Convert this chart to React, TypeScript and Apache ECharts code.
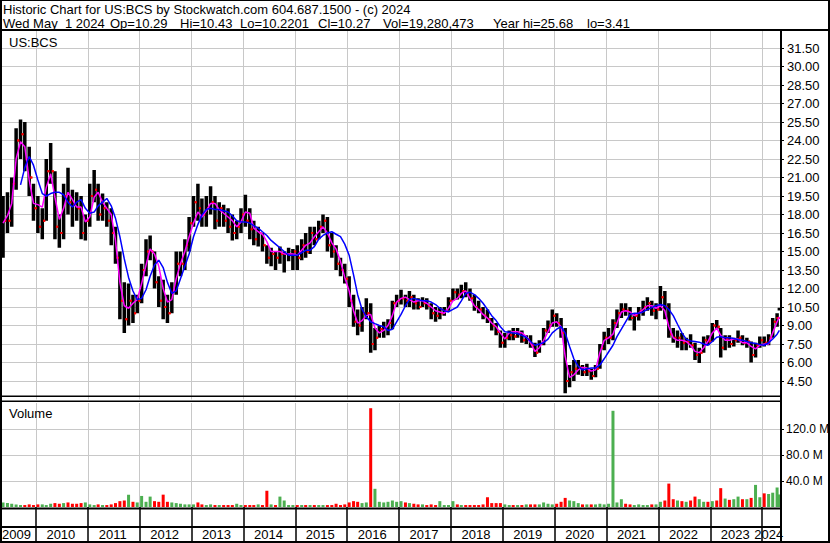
import React, { useEffect, useRef } from 'react';
import * as echarts from 'echarts';

// Monthly bars, May 2009 .. May 2024 (last bar = May 1 2024)
const FIRST_YEAR = 2009;
const FIRST_MONTH = 5;
const LAST_DAY: [number, number, number] = [2024, 5, 1];

const high = [
  19.5, 19.8, 21.0, 25.0, 25.7, 25.5, 23.5, 20.5, 19.5, 18.5, 22.5, 23.8, 21.5, 18.0, 20.5, 21.8, 20.0, 19.8, 19.5, 18.0,
  20.5, 21.6, 20.5, 19.7, 19.0, 18.5, 17.0, 15.0, 12.5, 12.4, 11.5, 11.5, 14.0, 16.0, 16.3, 15.0, 13.0, 12.7, 11.5, 12.5,
  15.0, 15.0, 16.0, 17.8, 19.5, 20.5, 19.3, 19.5, 20.3, 19.5, 19.0, 18.8, 18.5, 18.0, 17.5, 18.5, 19.6, 18.5, 17.5, 17.0,
  16.5, 15.5, 15.3, 15.0, 15.4, 15.0, 15.3, 15.2, 15.5, 16.0, 16.5, 17.0, 17.0, 17.5, 18.0, 17.8, 16.5, 15.5, 14.5, 14.0,
  13.0, 11.5, 10.3, 10.5, 11.2, 10.8, 8.8, 9.0, 9.3, 9.5, 11.0, 11.5, 11.9, 11.5, 11.8, 11.5, 11.2, 11.3, 11.2, 10.8,
  10.5, 10.5, 10.5, 11.3, 12.0, 12.0, 12.3, 12.5, 12.0, 11.5, 11.0, 10.5, 10.3, 9.6, 9.2, 8.6, 8.4, 8.6, 8.8, 8.8,
  8.6, 8.2, 8.2, 7.6, 7.8, 8.8, 9.4, 10.3, 10.0, 9.6, 8.8, 5.8, 6.2, 6.2, 5.8, 5.9, 5.5, 5.8, 7.5, 8.5,
  8.8, 9.5, 10.3, 10.8, 10.8, 10.5, 10.0, 10.5, 11.0, 11.3, 11.0, 10.8, 12.2, 11.8, 10.8, 8.8, 8.6, 8.4, 8.0, 8.3,
  7.6, 7.2, 8.1, 8.2, 9.2, 9.45, 8.8, 8.2, 8.2, 8.0, 8.6, 8.2, 8.0, 7.7, 7.6, 8.1, 8.1, 8.3, 9.6, 10.0,
  10.43,
];
const low = [
  14.5, 16.5, 17.0, 20.0, 22.5, 21.5, 19.5, 17.5, 16.5, 16.0, 17.5, 20.5, 16.0, 15.3, 16.0, 18.0, 17.0, 17.5, 16.0, 15.9,
  17.0, 19.0, 17.5, 17.5, 17.0, 15.5, 14.0, 9.5, 8.4, 9.0, 9.2, 10.0, 10.8, 13.0, 14.3, 12.0, 10.5, 9.5, 9.2, 10.0,
  11.5, 13.0, 13.5, 15.0, 17.0, 17.5, 17.0, 17.0, 18.0, 16.8, 17.0, 17.0, 16.5, 15.9, 16.0, 16.5, 17.0, 16.0, 15.5, 15.4,
  15.0, 14.0, 13.8, 13.5, 14.0, 13.3, 14.2, 13.5, 13.5, 14.3, 14.5, 14.8, 15.5, 16.0, 16.5, 15.0, 14.5, 13.5, 13.0, 12.4,
  10.5, 8.9, 8.2, 8.5, 9.5, 6.8, 7.0, 8.0, 8.0, 8.2, 8.7, 10.5, 10.7, 10.5, 10.5, 10.3, 10.3, 10.5, 10.3, 9.5,
  9.3, 9.5, 9.8, 10.2, 11.0, 11.1, 11.2, 11.3, 11.0, 10.2, 10.0, 9.5, 9.2, 8.6, 8.2, 7.2, 7.2, 7.8, 7.8, 8.0,
  7.6, 7.5, 7.2, 6.45, 6.8, 7.4, 8.4, 8.9, 8.9, 8.0, 3.5, 4.0, 4.5, 5.0, 4.9, 4.9, 4.6, 4.8, 5.5, 7.0,
  7.5, 7.8, 8.8, 9.6, 9.8, 9.4, 8.6, 9.4, 9.8, 10.2, 9.8, 9.5, 10.2, 9.5, 8.0, 7.6, 7.2, 7.0, 7.0, 7.2,
  6.2, 5.95, 6.8, 7.4, 7.7, 8.7, 6.4, 7.0, 7.2, 7.3, 7.6, 7.4, 7.2, 6.0, 6.4, 7.2, 7.3, 7.4, 8.0, 8.9,
  10.22,
];
const close = [
  17.5, 17.5, 20.5, 24.0, 24.5, 22.5, 21.0, 18.5, 17.0, 17.5, 21.5, 21.5, 17.0, 16.5, 19.5, 19.0, 18.8, 18.5, 16.5, 17.5,
  19.5, 20.0, 18.0, 18.5, 17.5, 16.5, 14.5, 11.0, 9.5, 11.0, 10.0, 11.0, 13.5, 15.0, 15.0, 12.5, 11.0, 10.5, 10.0, 11.8,
  14.0, 14.0, 15.5, 17.3, 19.0, 18.5, 18.0, 18.5, 19.0, 17.5, 18.5, 17.5, 17.0, 16.5, 17.0, 18.0, 17.5, 16.8, 16.0, 16.5,
  15.5, 14.5, 14.8, 14.5, 14.8, 14.8, 14.8, 15.0, 14.5, 15.5, 15.0, 16.5, 16.0, 17.0, 17.5, 15.5, 15.0, 14.0, 13.5, 12.8,
  11.0, 9.3, 9.0, 10.0, 10.0, 7.5, 8.0, 8.7, 8.8, 9.2, 10.8, 11.0, 11.2, 11.0, 11.3, 10.8, 10.5, 10.8, 10.6, 10.0,
  9.8, 10.0, 10.2, 11.0, 11.7, 11.5, 11.8, 11.6, 11.2, 10.5, 10.3, 9.8, 9.5, 9.0, 8.5, 7.6, 8.0, 8.2, 8.1, 8.4,
  7.8, 7.9, 7.4, 6.8, 7.5, 8.6, 9.0, 9.8, 9.2, 8.4, 4.5, 5.2, 5.5, 5.6, 5.2, 5.3, 4.9, 5.5, 7.2, 8.0,
  8.0, 9.2, 10.0, 10.3, 10.2, 9.6, 9.8, 10.2, 10.5, 10.8, 10.2, 10.3, 11.3, 10.5, 8.3, 8.0, 8.0, 7.6, 7.7, 7.4,
  6.6, 6.8, 7.8, 7.7, 9.0, 8.9, 7.2, 7.9, 7.5, 7.8, 8.0, 7.6, 7.7, 6.6, 7.4, 7.8, 7.6, 8.0, 9.3, 9.6,
  10.27,
];
// magenta (short) moving average
const maShort = [
  17.3, 17.9, 18.9, 22.5, 23.9, 23.5, 20.8, 18.9, 18.8, 18.6, 20.2, 21.3, 19.4, 17.6, 18.5, 19.8, 19.2, 18.6, 18.6, 17.4,
  17.8, 19.4, 19.8, 19.0, 18.5, 18.0, 15.9, 12.5, 10.6, 10.4, 10.8, 11.1, 12.4, 13.9, 15.2, 14.8, 13.8, 12.0, 10.9, 11.1,
  12.8, 14.0, 15.0, 16.2, 17.3, 18.2, 17.8, 18.3, 18.9, 18.9, 18.4, 18.1, 17.8, 17.5, 17.0, 17.4, 18.2, 18.1, 16.9, 16.6,
  16.4, 15.8, 15.0, 15.0, 15.0, 14.8, 14.8, 14.8, 14.7, 15.1, 15.5, 15.7, 16.2, 16.6, 17.0, 16.5, 15.7, 15.2, 14.2, 12.9,
  11.8, 10.2, 9.2, 9.4, 9.8, 9.9, 8.8, 8.4, 8.6, 9.0, 9.8, 10.9, 11.2, 11.3, 11.1, 10.9, 11.0, 11.0, 10.8, 10.5,
  10.2, 10.1, 10.0, 10.4, 11.0, 11.2, 11.6, 11.8, 11.2, 10.6, 10.3, 9.9, 9.6, 9.2, 8.9, 8.4, 7.9, 8.4, 8.5, 8.5,
  8.4, 8.1, 7.6, 6.9, 7.2, 7.8, 8.5, 9.2, 9.3, 8.9, 6.5, 4.8, 5.0, 5.4, 5.6, 5.55, 5.3, 5.4, 6.8, 7.8,
  8.0, 8.3, 9.2, 10.1, 10.2, 10.1, 9.8, 10.0, 10.3, 10.6, 10.6, 10.4, 10.6, 10.2, 8.9, 8.0, 7.8, 7.8, 7.7, 7.4,
  6.9, 6.8, 7.2, 7.7, 8.4, 8.8, 8.2, 7.8, 7.8, 7.9, 7.9, 7.6, 7.6, 7.3, 7.1, 7.4, 7.5, 7.5, 8.4, 9.3,
  9.7,
];
// blue (long) moving average
const maLong = [
  null, null, null, null, 20.4, 21.8, 22.7, 22.0, 20.8, 19.7, 19.5, 19.7, 19.8, 19.8, 19.6, 19.0, 18.6, 19.0, 19.2, 18.5,
  18.1, 18.2, 18.7, 19.0, 19.3, 18.7, 17.7, 16.2, 14.4, 12.9, 11.8, 11.1, 11.2, 11.9, 13.0, 13.9, 14.3, 13.7, 12.5, 11.6,
  11.8, 12.8, 13.8, 14.8, 16.2, 17.2, 17.95, 18.4, 18.5, 18.4, 18.4, 18.3, 18.2, 17.9, 17.5, 17.4, 17.4, 17.3, 17.1, 16.9,
  16.6, 16.3, 15.9, 15.6, 15.3, 15.0, 14.7, 14.7, 14.7, 14.9, 15.1, 15.1, 15.4, 16.0, 16.3, 16.5, 16.6, 16.4, 16.2, 15.6,
  14.7, 13.1, 11.5, 10.3, 9.7, 9.3, 9.15, 9.0, 8.9, 8.6, 8.7, 9.3, 9.9, 10.6, 11.1, 11.2, 11.1, 11.0, 11.0, 10.9,
  10.7, 10.4, 10.2, 10.1, 10.3, 10.5, 11.0, 11.6, 11.7, 11.5, 11.2, 10.8, 10.3, 9.8, 9.4, 8.9, 8.5, 8.45, 8.4, 8.35,
  8.2, 8.05, 7.7, 7.4, 7.5, 7.6, 7.9, 8.4, 8.7, 8.9, 8.4, 7.3, 6.3, 5.7, 5.4, 5.5, 5.55, 5.55, 5.8, 6.3,
  6.85, 7.4, 8.1, 8.7, 9.3, 9.9, 10.0, 10.0, 10.1, 10.3, 10.45, 10.6, 10.7, 10.6, 10.3, 9.8, 9.1, 8.4, 7.9, 7.75,
  7.7, 7.65, 7.5, 7.4, 7.7, 8.05, 8.1, 8.0, 8.0, 7.95, 7.85, 7.8, 7.7, 7.6, 7.55, 7.45, 7.4, 7.6, 7.9, 8.3,
  8.6,
];
// volume, millions of shares (peak daily volume seen in each month)
const volumeM = [
  7, 6, 5, 4, 3, 3, 4, 3, 4, 4, 3, 5, 6, 5, 6, 7, 5, 5, 6, 7,
  4, 3, 4, 3, 3, 4, 6, 9, 10, 19, 8, 7, 17, 8, 16, 9, 8, 19, 8, 7,
  6, 5, 4, 4, 4, 7, 4, 3, 4, 3, 3, 3, 3, 3, 5, 3, 3, 3, 3, 4,
  3, 25, 4, 3, 16, 10, 3, 3, 3, 3, 3, 3, 3, 3, 3, 3, 3, 5, 3, 4,
  7, 9, 8, 6, 7, 152, 28, 8, 7, 8, 10, 8, 9, 7, 6, 5, 4, 4, 3, 4,
  3, 9, 3, 3, 9, 4, 3, 3, 3, 3, 3, 4, 15, 6, 6, 6, 4, 3, 3, 3,
  3, 4, 4, 4, 4, 7, 5, 4, 5, 8, 14, 10, 9, 6, 4, 4, 4, 4, 5, 4,
  5, 148, 7, 12, 5, 4, 3, 4, 3, 3, 4, 4, 8, 10, 36, 12, 10, 9, 8, 10,
  16, 12, 8, 8, 9, 10, 29, 13, 11, 12, 16, 12, 12, 14, 34, 15, 21, 20, 22, 30,
  19.28,
];

const headerLine1 = 'Historic Chart for US:BCS by Stockwatch.com 604.687.1500 - (c) 2024';
const headerFields = ['Wed May  1 2024', 'Op=10.29', 'Hi=10.43', 'Lo=10.2201', 'Cl=10.27', 'Vol=19,280,473', 'Year hi=25.68', 'lo=3.41'];
const headerFieldX = [3, 110, 180, 240, 318, 383, 493, 587];

const FONT = '"Liberation Sans", Arial, sans-serif';

function toYear(y: number, m: number, d: number) {
  const s = Date.UTC(y, 0, 1);
  const e = Date.UTC(y + 1, 0, 1);
  return y + (Date.UTC(y, m - 1, d) - s) / (e - s);
}

const dates = close.map((_, i) => {
  if (i === close.length - 1) return toYear(LAST_DAY[0], LAST_DAY[1], LAST_DAY[2]);
  const mm = FIRST_MONTH - 1 + i;
  return toYear(FIRST_YEAR + Math.floor(mm / 12), (mm % 12) + 1, 15);
});

const X_MIN = 2009;
const X_MAX = 2024.362;

export default function App() {
  const ref = useRef<HTMLDivElement>(null);
  useEffect(() => {
    if (!ref.current) return;
    const chart = echarts.init(ref.current, undefined, { renderer: 'svg' });
    const grid = '#c8c8c8';
    const ohlc = dates.map((d, i) => [d, high[i], low[i], close[i], i > 0 ? close[i - 1] : close[i]]);
    const vol = dates.map((d, i) => ({
      value: [d, volumeM[i]],
      itemStyle: { color: i > 0 && close[i] < close[i - 1] ? '#ff0000' : '#4caf50' },
    }));
    const yearFmt = (v: number) => {
      const y = Math.round(v);
      if (Math.abs(v - y) > 1e-6) return '';
      if (y === 2009) return `{first|${y}}`;
      if (y === 2024) return `{last|${y}}`;
      return `{mid|${y}}`;
    };
    const richBase = { fontSize: 13, fontFamily: FONT, color: '#000' };
    const blackRect = (x: number, y: number, w: number, h: number) => ({
      type: 'rect', shape: { x, y, width: w, height: h }, style: { fill: '#000' }, z: 100, silent: true,
    });
    const txt = (x: number, y: number, text: string) => ({
      type: 'text', x, y, z: 101, silent: true,
      style: { text, fill: '#000', font: `13px ${FONT}`, textVerticalAlign: 'middle', verticalAlign: 'middle', textAlign: 'left', align: 'left' },
    });
    chart.setOption({
      animation: false,
      backgroundColor: '#ffffff',
      textStyle: { fontFamily: FONT },
      grid: [
        { left: -16, right: 49, top: 29.5, height: 370, outerBoundsMode: 'none', containLabel: false },
        { left: -16, right: 49, top: 403, height: 104, outerBoundsMode: 'none', containLabel: false },
      ],
      xAxis: [
        {
          gridIndex: 0, type: 'value', min: X_MIN, max: X_MAX, interval: 1,
          axisLine: { show: false }, axisTick: { show: false }, axisLabel: { show: false },
          splitLine: { show: true, showMinLine: false, showMaxLine: false, lineStyle: { color: grid, width: 1 } },
        },
        {
          gridIndex: 1, type: 'value', min: X_MIN, max: X_MAX, interval: 1,
          axisLine: { show: false },
          axisTick: { show: true, length: 34, lineStyle: { color: '#000', width: 1.5 } },
          axisLabel: {
            show: true, showMinLabel: true, showMaxLabel: false, hideOverlap: false,
            margin: 21, align: 'center', formatter: yearFmt,
            rich: {
              first: { ...richBase, padding: [0, 0, 0, 65] },
              mid: { ...richBase, padding: [0, 0, 0, 50] },
              last: { ...richBase, padding: [0, 0, 0, 13] },
            },
          },
          splitLine: { show: true, showMinLine: false, showMaxLine: false, lineStyle: { color: grid, width: 1 } },
        },
      ],
      yAxis: [
        {
          gridIndex: 0, type: 'value', position: 'right', min: 3, max: 33, interval: 1.5,
          axisLine: { show: false },
          axisTick: { show: true, length: 3, lineStyle: { color: '#000' } },
          axisLabel: {
            showMinLabel: false, showMaxLabel: false, margin: 6, align: 'left',
            color: '#000', fontSize: 13, fontFamily: FONT, formatter: (v: number) => v.toFixed(2),
          },
          splitLine: { show: true, showMinLine: false, showMaxLine: false, lineStyle: { color: grid, width: 1 } },
        },
        {
          gridIndex: 1, type: 'value', position: 'right', min: 0, max: 160, interval: 40,
          axisLine: { show: false },
          axisTick: { show: true, length: 3, lineStyle: { color: '#000' } },
          axisLabel: {
            showMinLabel: false, showMaxLabel: false, margin: 5, align: 'left',
            color: '#000', fontSize: 12, fontFamily: FONT, formatter: (v: number) => v.toFixed(1) + ' M',
          },
          splitLine: { show: true, showMinLine: false, showMaxLine: false, lineStyle: { color: grid, width: 1 } },
        },
      ],
      series: [
        {
          type: 'custom', xAxisIndex: 0, yAxisIndex: 0, clip: true,
          encode: { x: 0, y: [1, 2] },
          data: ohlc,
          renderItem: (params: any, api: any) => {
            const x = api.value(0);
            const pH = api.coord([x, api.value(1)]);
            const pL = api.coord([x, api.value(2)]);
            const pC = api.coord([x, api.value(3)]);
            const pO = api.coord([x, api.value(4)]);
            return {
              type: 'group',
              children: [
                { type: 'rect', shape: { x: pH[0] - 1.75, y: pH[1], width: 3.5, height: Math.max(1, pL[1] - pH[1]) }, style: { fill: '#000' } },
                { type: 'rect', shape: { x: pC[0] + 1, y: pC[1] - 1, width: 2, height: 2 }, style: { fill: '#ff0000' } },
                { type: 'rect', shape: { x: pO[0] - 3, y: pO[1] - 1, width: 2, height: 2 }, style: { fill: '#ff0000' } },
              ],
            };
          },
          z: 2,
        },
        {
          type: 'line', xAxisIndex: 0, yAxisIndex: 0, showSymbol: false, symbol: 'none',
          data: dates.map((d, i) => [d, maShort[i]]),
          lineStyle: { color: '#ff00ff', width: 1.5 }, z: 3,
        },
        {
          type: 'line', xAxisIndex: 0, yAxisIndex: 0, showSymbol: false, symbol: 'none',
          data: dates.map((d, i) => [d, maLong[i]]),
          lineStyle: { color: '#0000ff', width: 1.5 }, z: 4,
        },
        {
          type: 'bar', xAxisIndex: 1, yAxisIndex: 1, barWidth: 3,
          data: vol, z: 2,
        },
      ],
      graphic: [
        blackRect(0, 0, 830, 1),
        blackRect(828, 0, 2, 543),
        blackRect(0, 0, 2, 543),
        blackRect(0, 29, 830, 2),
        blackRect(0, 541, 830, 2),
        blackRect(780, 29, 2, 514),
        blackRect(0, 395.5, 782, 1.5),
        blackRect(0, 400.5, 782, 1.5),
        blackRect(0, 507.5, 782, 2),
        blackRect(0, 526, 782, 2),
        txt(3, 9.5, headerLine1),
        ...headerFields.map((t, i) => txt(headerFieldX[i], 23, t)),
        txt(9, 42, 'US:BCS'),
        txt(9, 413, 'Volume'),
      ],
    });
    return () => chart.dispose();
  }, []);
  return <div ref={ref} style={{ position: 'fixed', left: 0, top: 0, width: 830, height: 543 }} />;
}
